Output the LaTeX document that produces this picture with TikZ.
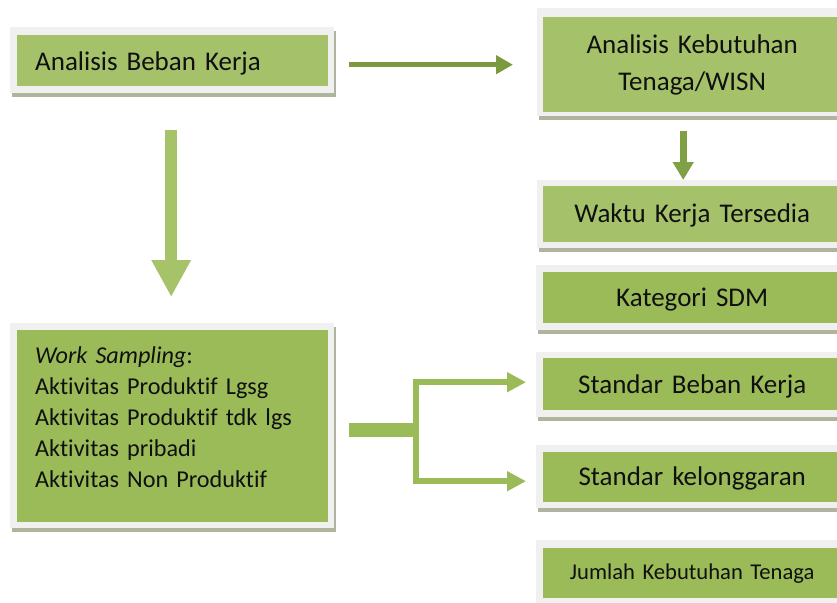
\documentclass[tikz,border=0pt]{standalone}
\usepackage{fontspec}
\setmainfont{Carlito}[RawFeature={-liga}]
\usetikzlibrary{arrows.meta,calc}
\definecolor{gr}{HTML}{9BBB59}
\definecolor{grl}{HTML}{A5C26B}
\definecolor{grd}{HTML}{7A9A40}
\definecolor{grm}{HTML}{80A045}
\definecolor{grb}{HTML}{A6C36A}
\definecolor{framec}{HTML}{F0F0F0}
\definecolor{shadowc}{HTML}{AEB49E}
\definecolor{txt}{HTML}{101010}
\newcommand\plate[4]{%
  \fill[shadowc] (#1+2,#2+4) rectangle (#3+2,#4+4);
  \fill[framec] (#1,#2) rectangle (#3,#4);}
\tikzset{
  gbox/.style={fill=gr, draw=none, anchor=north west, inner sep=0pt, text=txt},
  bigtxt/.style={font=\fontsize{27}{36.5}\selectfont},
  rbox/.style={gbox, minimum width=298pt, text width=280pt, align=center, bigtxt},
  arrowA/.style={draw=grd, line width=5pt, -{Triangle[length=17pt,width=18pt]}},
  arrowB/.style={draw=grm, line width=7pt, -{Triangle[length=18pt,width=20pt]}},
  arrowC/.style={draw=grb, line width=12pt, -{Triangle[length=37pt,width=37pt]}},
  forkbar/.style={draw=gr, line width=14pt},
  forkarr/.style={draw=gr, line width=6pt, line join=miter, -{Triangle[length=19pt,width=19pt]}}
}
\begin{document}
\begin{tikzpicture}[x=1pt,y=-1pt]
\useasboundingbox (0,0) rectangle (837,602);
\clip (0,0) rectangle (837,602);
\fill[white] (0,0) rectangle (837,602);

% plates
\plate{10}{27}{334}{93}
\plate{537}{8}{848}{116}
\plate{537}{180}{848}{248}
\plate{536}{265}{848}{330}
\plate{536}{352}{848}{417}
\plate{536}{445}{848}{508}
\plate{536}{540}{848}{612}
\plate{10}{323}{334}{528}

% boxes
\node[gbox, fill=grl, minimum width=311pt, minimum height=51pt, text width=275pt,
      inner xsep=18pt, align=left, bigtxt, text height=24pt, text depth=5pt] (b1) at (17,35) {Analisis Beban Kerja};
\node[rbox, fill=grl, minimum height=95pt] (b2) at (543,17) {Analisis Kebutuhan\\Tenaga/WISN};
\node[rbox, fill=grl, minimum height=56pt, text height=20pt, text depth=4pt] (b3) at (543,186) {Waktu Kerja Tersedia};
\node[rbox, minimum height=51pt, text height=21pt, text depth=4pt] (b4) at (543,272) {Kategori SDM};
\node[rbox, minimum height=52pt, text height=21pt, text depth=3pt] (b5) at (543,358) {Standar Beban Kerja};
\node[rbox, minimum height=50pt, text height=20pt, text depth=4pt] (b6) at (543,452) {Standar kelonggaran};
\node[rbox, minimum height=50pt, font=\fontsize{22.6}{28}\selectfont] (b7) at (543,548) {Jumlah Kebutuhan Tenaga};
\node[gbox, minimum width=311pt, minimum height=192pt] (b8) at (17,330) {};
\node[anchor=base west, inner sep=0pt, text width=300pt, align=left, text=txt,
      font=\fontsize{24.2}{31}\selectfont] (b8t) at (35,363)
  {\textit{Work Sampling}:\\
   Aktivitas Produktif Lgsg\\
   Aktivitas Produktif tdk lgs\\
   Aktivitas pribadi\\
   Aktivitas Non Produktif};

% connectors
\coordinate (a1s) at ($(b1.east)+(21,4)$);
\draw[arrowA] (a1s) -- (a1s -| {$(b2.west)+(-30,0)$});
\draw[arrowB] ($(b2.south)+(-9,19)$) -- ($(b3.north)+(-9,-6)$);
\draw[arrowC] ($(b1.south)+(-1.5,44)$) -- ($(b8.north)+(-1.5,-33)$);
\coordinate (fk) at ($(b8.east)+(87.5,4)$);
\draw[forkbar] ($(b8.east)+(21,4)$) -- ($(fk)+(2,0)$);
\draw[forkarr] (fk) |- ($(b5.west)+(-17,-2)$);
\draw[forkarr] (fk) |- ($(b6.west)+(-17,4)$);
\end{tikzpicture}
\end{document}
